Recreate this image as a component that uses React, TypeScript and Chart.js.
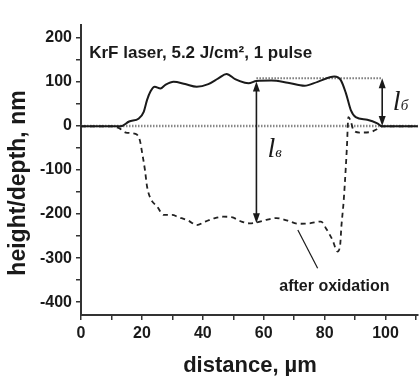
import React, { useEffect, useRef } from 'react';
import { Chart, registerables } from 'chart.js';

Chart.register(...registerables);

// Profile before oxidation (solid)
const profileX = [0, 5, 10, 13, 15.8, 19, 20.6, 21.7, 22.8, 24.2, 26.1, 27.7, 30.4, 34.2, 38, 41.8, 45.1, 47.8, 50.6, 53.8, 55, 57.6, 62.5, 67.9, 73.4, 77.7, 83.2, 85.3, 87, 88.6, 90.2, 94, 97.3, 98.9, 105, 110.6];
const profileY = [-1, -1, -1, -1, 10, 17, 32, 59, 78, 89, 85, 93, 100, 95, 89, 95, 108, 118, 106, 98, 97, 102, 103, 98, 91, 100, 112, 104, 74, 36, 20, 14, 6, -1, -1, -1];

// Profile after oxidation (dashed)
const oxidX = [0, 5, 10, 12.5, 14.7, 17.9, 19.3, 20.1, 21, 21.7, 22.8, 25, 27.2, 29.9, 32, 35.3, 38, 40.8, 44, 46.7, 49.4, 52.7, 55.4, 57.6, 60.9, 64.1, 67.9, 71.2, 75, 78.8, 80.4, 82.6, 84.2, 85.1, 85.5, 86.2, 86.6, 87.3, 87.8, 88.6, 89.5, 91.5, 95, 97, 98.9, 105, 110.6];
const oxidY = [-1, -1, -1, -5, -15, -18, -32, -62, -100, -138, -164, -183, -202, -202, -207, -215, -225, -217, -209, -206, -207, -217, -221, -219, -213, -209, -215, -222, -221, -217, -232, -259, -285, -270, -228, -175, -134, -50, 20, 10, -10, -15, -14, -8, -1, -1, -1];

// Reference lines
const zeroLineX = [0, 110.6];
const zeroLineY = [0, 0];
const topLineX = [57.6, 98.9];
const topLineY = [108, 108];

// Arrows: [x, yFrom, yTo]
const arrowDepth = [57.6, 101, -221];
const arrowHeight = [98.9, 108, 0];

const xTickLabels = [0, 20, 40, 60, 80, 100];
const yTickLabels = [-400, -300, -200, -100, 0, 100, 200];

const titleText = 'KrF laser, 5.2 J/cm², 1 pulse';
const xTitle = 'distance, \u00b5m';
const yTitle = 'height/depth, nm';
const oxidLabel = 'after oxidation';

const pts = (xs: number[], ys: number[]) => xs.map((x, i) => ({ x, y: ys[i] }));

const SANS = '"Liberation Sans", Arial, sans-serif';
const SERIF = '"Liberation Serif", "Times New Roman", serif';

const annotPlugin = {
  id: 'annot',
  afterDatasetsDraw(chart: any) {
    const { ctx } = chart;
    const xs = chart.scales.x;
    const ys = chart.scales.y;
    const px = (v: number) => xs.getPixelForValue(v);
    const py = (v: number) => ys.getPixelForValue(v);
    ctx.save();
    ctx.strokeStyle = '#1a1a1a';
    ctx.fillStyle = '#1a1a1a';

    const drawArrow = (a: number[]) => {
      const x = px(a[0]);
      const y1 = py(a[1]);
      const y2 = py(a[2]);
      ctx.lineWidth = 1.6;
      ctx.beginPath();
      ctx.moveTo(x, y1 + 6);
      ctx.lineTo(x, y2 - 6);
      ctx.stroke();
      const head = (yTip: number, dir: number) => {
        ctx.beginPath();
        ctx.moveTo(x, yTip);
        ctx.lineTo(x - 3.5, yTip + dir * 10);
        ctx.lineTo(x + 3.5, yTip + dir * 10);
        ctx.closePath();
        ctx.fill();
      };
      head(y1, 1);
      head(y2, -1);
    };
    drawArrow(arrowDepth);
    drawArrow(arrowHeight);

    // leader line for "after oxidation"
    ctx.lineWidth = 1.2;
    ctx.beginPath();
    ctx.moveTo(px(71.2), py(-236));
    ctx.lineTo(px(77.7), py(-323));
    ctx.stroke();

    // texts
    ctx.textBaseline = 'middle';
    ctx.textAlign = 'left';
    ctx.font = `bold 17px ${SANS}`;
    ctx.fillText(titleText, px(2.7), py(165));

    ctx.font = `bold 16px ${SANS}`;
    ctx.fillText(oxidLabel, px(65.1), py(-364));

    // l labels
    ctx.textBaseline = 'alphabetic';
    ctx.font = `italic 28px ${SERIF}`;
    ctx.fillText('l', px(61.2), py(-70));
    ctx.font = `italic 15px ${SERIF}`;
    ctx.fillText('\u0432', px(63.8), py(-70));
    ctx.font = `italic 28px ${SERIF}`;
    ctx.fillText('l', px(102.4), py(36));
    ctx.font = `italic 15px ${SERIF}`;
    ctx.fillText('\u0431', px(105), py(36));

    // axis titles
    ctx.fillStyle = '#1a1a1a';
    ctx.textAlign = 'center';
    ctx.textBaseline = 'middle';
    ctx.font = `bold 22px ${SANS}`;
    ctx.fillText(xTitle, 250, 366);
    ctx.save();
    ctx.translate(19, 183);
    ctx.rotate(-Math.PI / 2);
    ctx.font = `bold 23px ${SANS}`;
    ctx.fillText(yTitle, 0, 0);
    ctx.restore();

    ctx.restore();
  },
};

const hasLabel = (list: number[], v: any) => list.includes(Math.round(Number(v)));

export default function App() {
  const ref = useRef<HTMLCanvasElement | null>(null);
  useEffect(() => {
    if (!ref.current) return;
    const tickFont = { family: SANS, size: 16, weight: 'bold' as const };
    const chart = new Chart(ref.current, {
      type: 'scatter',
      data: {
        datasets: [
          {
            label: 'before',
            data: pts(profileX, profileY),
            showLine: true,
            borderColor: '#1a1a1a',
            borderWidth: 2,
            pointRadius: 0,
            cubicInterpolationMode: 'monotone',
          },
          {
            label: 'after oxidation',
            data: pts(oxidX, oxidY),
            showLine: true,
            borderColor: '#222',
            borderWidth: 1.8,
            borderDash: [5, 4],
            pointRadius: 0,
            cubicInterpolationMode: 'monotone',
          },
          {
            label: 'top',
            data: pts(topLineX, topLineY),
            showLine: true,
            borderColor: '#777',
            borderWidth: 2,
            borderDash: [1.5, 1.5],
            pointRadius: 0,
          },
          {
            label: 'zero',
            data: pts(zeroLineX, zeroLineY),
            showLine: true,
            borderColor: '#888',
            borderWidth: 2.5,
            borderDash: [1.5, 1.5],
            pointRadius: 0,
          },
        ],
      },
      options: {
        animation: false,
        responsive: false,
        layout: { padding: { top: 25, right: 0, bottom: 0, left: 0 } },
        plugins: { legend: { display: false }, tooltip: { enabled: false } },
        scales: {
          x: {
            type: 'linear',
            min: 0,
            max: 110.6,
            afterFit: (s: any) => { s.height = 61; },
            afterBuildTicks: (s: any) => {
              s.ticks = s.ticks.filter((t: any) => Math.abs(t.value - Math.round(t.value / 10) * 10) < 1e-6);
            },
            ticks: {
              stepSize: 10,
              includeBounds: false,
              autoSkip: false,
              maxRotation: 0,
              padding: 4,
              color: '#1a1a1a',
              font: tickFont,
              callback: (v: any) => (hasLabel(xTickLabels, v) ? String(Math.round(Number(v))) : ''),
            },
            grid: { drawOnChartArea: false, drawTicks: true, tickLength: 5, color: '#333', lineWidth: 1.5 },
            border: { display: true, color: '#333', width: 2 },
          },
          y: {
            type: 'linear',
            min: -429,
            max: 229,
            afterFit: (s: any) => { s.width = 81; },
            afterBuildTicks: (s: any) => {
              s.ticks = s.ticks.filter((t: any) => Math.abs(t.value - Math.round(t.value / 50) * 50) < 1e-6);
            },
            ticks: {
              stepSize: 50,
              includeBounds: false,
              autoSkip: false,
              padding: 4,
              color: '#1a1a1a',
              font: tickFont,
              callback: (v: any) => (hasLabel(yTickLabels, v) ? String(Math.round(Number(v))) : ''),
            },
            grid: { drawOnChartArea: false, drawTicks: true, tickLength: 5, color: '#333', lineWidth: 1.5 },
            border: { display: true, color: '#333', width: 2 },
          },
        },
      },
      plugins: [annotPlugin],
    } as any);
    return () => chart.destroy();
  }, []);
  return (
    <div style={{ position: 'absolute', left: 0, top: 0, width: 420, height: 376, background: '#fff' }}>
      <canvas ref={ref} width={420} height={376} />
    </div>
  );
}
